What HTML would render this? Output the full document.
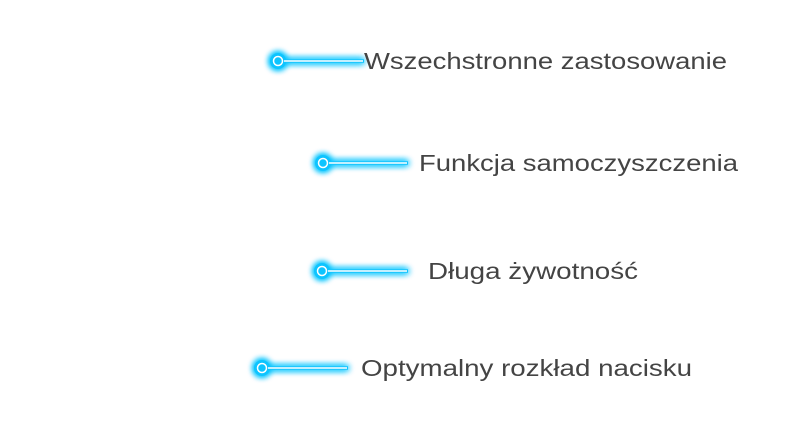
<!DOCTYPE html>
<html><head><style>
html,body{margin:0;padding:0;background:#fff;width:800px;height:438px;overflow:hidden}
text{font-family:"Liberation Sans",sans-serif;font-size:23px;fill:#444;font-weight:normal}
</style></head><body>
<svg width="800" height="438" xmlns="http://www.w3.org/2000/svg">
<defs>
<filter id="g" x="-50%" y="-300%" width="200%" height="700%">
<feGaussianBlur stdDeviation="3.5" result="b"/>
<feMerge><feMergeNode in="b"/><feMergeNode in="b"/><feMergeNode in="b"/><feMergeNode in="SourceGraphic"/></feMerge>
</filter>
</defs>
<g filter="url(#g)">
<line x1="283" y1="61" x2="364" y2="61" stroke="#10c4ff" stroke-width="3.5"/>
<circle cx="278" cy="61" r="8" fill="#10c4ff"/>
<line x1="328" y1="163" x2="408" y2="163" stroke="#10c4ff" stroke-width="3.5"/>
<circle cx="323" cy="163" r="8" fill="#10c4ff"/>
<line x1="327" y1="271" x2="408" y2="271" stroke="#10c4ff" stroke-width="3.5"/>
<circle cx="322" cy="271" r="8" fill="#10c4ff"/>
<line x1="267" y1="368" x2="348" y2="368" stroke="#10c4ff" stroke-width="3.5"/>
<circle cx="262" cy="368" r="8" fill="#10c4ff"/>
</g>
<g stroke="#fff" fill="#fff">
<line x1="284" y1="61" x2="363" y2="61" stroke-width="1.5"/>
<circle cx="278" cy="61" r="4.5" fill="none" stroke-width="1.5"/>
<line x1="329" y1="163" x2="407" y2="163" stroke-width="1.5"/>
<circle cx="323" cy="163" r="4.5" fill="none" stroke-width="1.5"/>
<line x1="328" y1="271" x2="407" y2="271" stroke-width="1.5"/>
<circle cx="322" cy="271" r="4.5" fill="none" stroke-width="1.5"/>
<line x1="268" y1="368" x2="347" y2="368" stroke-width="1.5"/>
<circle cx="262" cy="368" r="4.5" fill="none" stroke-width="1.5"/>
</g>
<text x="364" y="69" textLength="363" lengthAdjust="spacingAndGlyphs">Wszechstronne zastosowanie</text>
<text x="419" y="171" textLength="319" lengthAdjust="spacingAndGlyphs">Funkcja samoczyszczenia</text>
<text x="428" y="279" textLength="210" lengthAdjust="spacingAndGlyphs">Długa żywotność</text>
<text x="361" y="376" textLength="331" lengthAdjust="spacingAndGlyphs">Optymalny rozkład nacisku</text>
</svg>
</body></html>
